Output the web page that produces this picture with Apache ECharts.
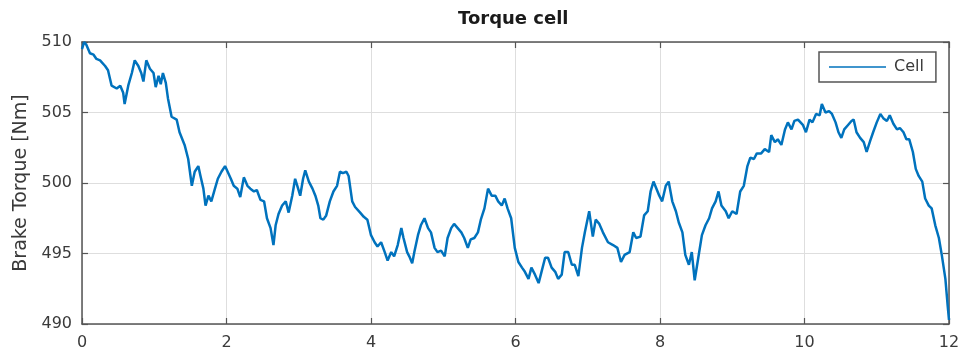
<!DOCTYPE html>
<html>
<head>
<meta charset="utf-8">
<title>Torque cell</title>
<script src="https://cdn.jsdelivr.net/npm/echarts@6/dist/echarts.min.js"></script>
<style>
  html, body { margin: 0; padding: 0; background: #ffffff; }
  #chart { width: 964px; height: 361px; }
</style>
</head>
<body>
<div id="chart"></div>
<script>
// Time axis samples [s]
const timeS = [
  0.00, 0.03, 0.06, 0.11, 0.16, 0.20, 0.25, 0.32, 0.36, 0.41, 0.48, 0.53, 0.57, 0.59, 0.64, 0.69,
  0.73, 0.78, 0.82, 0.85, 0.89, 0.94, 0.99, 1.02, 1.06, 1.09, 1.12, 1.16, 1.19, 1.24, 1.31, 1.35,
  1.42, 1.47, 1.52, 1.56, 1.61, 1.64, 1.68, 1.71, 1.75, 1.79, 1.84, 1.88, 1.93,
  1.98, 2.06, 2.10, 2.15, 2.19, 2.24, 2.29, 2.33, 2.38, 2.42, 2.47, 2.52, 2.56, 2.61, 2.65, 2.68,
  2.72, 2.77, 2.82, 2.86, 2.91, 2.95, 2.98, 3.02, 3.06, 3.09, 3.14, 3.19, 3.23, 3.27, 3.30, 3.34,
  3.38, 3.43, 3.48, 3.53, 3.57, 3.61, 3.66, 3.69, 3.74, 3.78, 3.85, 3.90, 3.95,
  4.00, 4.05, 4.09, 4.14, 4.19, 4.23, 4.28, 4.32, 4.37, 4.42, 4.45, 4.50, 4.53, 4.57, 4.60, 4.65,
  4.69, 4.74, 4.79, 4.83, 4.88, 4.92, 4.97, 5.02, 5.06, 5.11, 5.15, 5.20, 5.25, 5.29, 5.34, 5.38,
  5.43, 5.48, 5.52, 5.57, 5.62, 5.67, 5.72, 5.76, 5.81, 5.85, 5.89, 5.94,
  5.99, 6.04, 6.09, 6.13, 6.18, 6.22, 6.27, 6.32, 6.36, 6.41, 6.45, 6.50, 6.55, 6.59, 6.64, 6.68,
  6.73, 6.78, 6.82, 6.87, 6.92, 6.96, 7.02, 7.07, 7.11, 7.16, 7.21, 7.28, 7.35, 7.41, 7.46, 7.51,
  7.58, 7.63, 7.67, 7.73, 7.78, 7.83, 7.87, 7.91,
  7.99, 8.03, 8.08, 8.12, 8.17, 8.22, 8.26, 8.31, 8.35, 8.40, 8.44, 8.48, 8.53, 8.58, 8.63, 8.68,
  8.72, 8.77, 8.81, 8.85, 8.91, 8.95, 9.00, 9.06, 9.11, 9.16, 9.21, 9.25, 9.30, 9.34, 9.40, 9.45,
  9.51, 9.54, 9.59, 9.63, 9.68, 9.73, 9.77, 9.82, 9.86, 9.91,
  9.98, 10.02, 10.07, 10.11, 10.16, 10.21, 10.24, 10.29, 10.34, 10.38, 10.43, 10.47, 10.51, 10.55,
  10.60, 10.65, 10.68, 10.72, 10.77, 10.82, 10.86, 10.91, 10.95, 11.00, 11.05, 11.09, 11.14, 11.18,
  11.23, 11.28, 11.32, 11.37, 11.41, 11.45, 11.50, 11.54, 11.58, 11.63, 11.67, 11.72, 11.76, 11.81,
  11.86, 11.90, 11.95, 11.98, 12.00
];

// Brake torque measured by the cell [Nm]
const cellTorque = [
  509.5, 510.0, 509.8, 509.2, 509.1, 508.8, 508.7, 508.3, 508.0, 506.9, 506.7, 506.9, 506.4, 505.6, 506.9, 507.8,
  508.7, 508.3, 507.8, 507.2, 508.7, 508.1, 507.8, 506.8, 507.6, 507.0, 507.8, 507.1, 506.0, 504.7, 504.5, 503.6,
  502.7, 501.7, 499.8, 500.8, 501.2, 500.5, 499.6, 498.4, 499.1, 498.7, 499.6, 500.3, 500.8,
  501.2, 500.3, 499.8, 499.6, 499.0, 500.4, 499.8, 499.6, 499.4, 499.5, 498.8, 498.7, 497.5, 496.8, 495.6, 497.0,
  497.8, 498.4, 498.7, 497.9, 499.1, 500.3, 499.8, 499.1, 500.3, 500.9, 500.1, 499.6, 499.1, 498.4, 497.5, 497.4,
  497.7, 498.7, 499.4, 499.8, 500.8, 500.7, 500.8, 500.5, 498.7, 498.3, 497.9, 497.6, 497.4,
  496.3, 495.8, 495.5, 495.8, 495.1, 494.5, 495.1, 494.8, 495.6, 496.8, 496.1, 495.1, 494.8, 494.3, 495.1, 496.3,
  497.0, 497.5, 496.8, 496.5, 495.4, 495.1, 495.2, 494.8, 496.1, 496.8, 497.1, 496.8, 496.5, 496.1, 495.4, 496.0,
  496.1, 496.5, 497.4, 498.2, 499.6, 499.1, 499.1, 498.7, 498.4, 498.9, 498.2, 497.5,
  495.4, 494.4, 494.0, 493.7, 493.2, 494.0, 493.5, 492.9, 493.7, 494.7, 494.7, 494.0, 493.7, 493.2, 493.5, 495.1,
  495.1, 494.2, 494.2, 493.4, 495.4, 496.5, 498.0, 496.2, 497.4, 497.1, 496.5, 495.8, 495.6, 495.4, 494.4, 494.9,
  495.1, 496.5, 496.1, 496.2, 497.7, 498.0, 499.4, 500.1,
  499.1, 498.7, 499.8, 500.1, 498.7, 498.0, 497.2, 496.5, 494.9, 494.2, 495.1, 493.1, 494.7, 496.3, 497.0, 497.5,
  498.2, 498.7, 499.4, 498.4, 498.0, 497.5, 498.0, 497.8, 499.4, 499.8, 501.2, 501.8, 501.7, 502.1, 502.1, 502.4,
  502.2, 503.4, 502.9, 503.1, 502.7, 503.8, 504.3, 503.8, 504.4, 504.5,
  504.1, 503.6, 504.5, 504.3, 504.9, 504.8, 505.6, 505.0, 505.1, 504.9, 504.3, 503.6, 503.2, 503.8,
  504.1, 504.4, 504.5, 503.6, 503.2, 502.9, 502.2, 503.0, 503.6, 504.3, 504.9, 504.6, 504.4, 504.8,
  504.2, 503.8, 503.9, 503.6, 503.1, 503.1, 502.2, 501.0, 500.5, 500.1, 498.9, 498.4, 498.2, 497.0,
  496.1, 494.9, 493.2, 491.4, 490.3
];

// Axis ranges and tick spacing
const xRange = [0, 12];
const xStep = 2;
const yRange = [490, 510];
const yStep = 5;

const seriesName = 'Cell';
const titleText = 'Torque cell';
const yAxisTitle = 'Brake Torque [Nm]';

const points = timeS.map((t, i) => [t, cellTorque[i]]);

const FONT = 'DejaVu Sans';
const FRAME = '#555555';
const GRID = '#dedede';
const LABEL = '#3a3a3a';
const LINE = '#0072BD';

const chart = echarts.init(document.getElementById('chart'), null, { renderer: 'canvas' });

const frameLine = { show: true, onZero: false, lineStyle: { color: FRAME, width: 1.5 } };
const innerTick = { show: true, inside: true, length: 6, lineStyle: { color: FRAME, width: 1.2 } };

chart.setOption({
  animation: false,
  backgroundColor: '#ffffff',
  title: {
    text: titleText,
    left: 458,
    top: 10,
    padding: 0,
    textStyle: { fontFamily: FONT, fontWeight: 'bold', fontSize: 18, color: '#1a1a1a' }
  },
  legend: {
    left: 819,
    top: 52,
    padding: [7, 12, 7, 10],
    itemWidth: 57,
    itemHeight: 1.5,
    icon: 'rect',
    backgroundColor: '#ffffff',
    borderColor: FRAME,
    borderWidth: 1.5,
    borderRadius: 0,
    selectedMode: false,
    textStyle: { fontFamily: FONT, fontSize: 16, color: LABEL, padding: [0, 0, 0, 3] },
    data: [seriesName]
  },
  grid: { left: 82, right: 15, top: 42, bottom: 37, show: false },
  xAxis: [
    {
      type: 'value', min: xRange[0], max: xRange[1], interval: xStep, position: 'bottom',
      axisLine: frameLine, axisTick: innerTick,
      axisLabel: { margin: 11, fontFamily: FONT, fontSize: 16, color: LABEL },
      splitLine: { show: true, lineStyle: { color: GRID, width: 1 } }
    },
    {
      type: 'value', min: xRange[0], max: xRange[1], interval: xStep, position: 'top',
      axisLine: frameLine, axisTick: innerTick,
      axisLabel: { show: false }, splitLine: { show: false }
    }
  ],
  yAxis: [
    {
      type: 'value', min: yRange[0], max: yRange[1], interval: yStep, position: 'left',
      name: yAxisTitle, nameLocation: 'middle', nameGap: 48,
      nameTextStyle: { fontFamily: FONT, fontSize: 19, color: LABEL },
      axisLine: frameLine, axisTick: innerTick,
      axisLabel: { margin: 10, fontFamily: FONT, fontSize: 16, color: LABEL },
      splitLine: { show: true, lineStyle: { color: GRID, width: 1 } }
    },
    {
      type: 'value', min: yRange[0], max: yRange[1], interval: yStep, position: 'right',
      axisLine: frameLine, axisTick: innerTick,
      axisLabel: { show: false }, splitLine: { show: false }
    }
  ],
  series: [
    {
      name: seriesName,
      type: 'line',
      xAxisIndex: 0,
      yAxisIndex: 0,
      data: points,
      showSymbol: false,
      symbol: 'none',
      smooth: false,
      itemStyle: { color: LINE },
      lineStyle: { color: LINE, width: 2.5 },
      z: 3
    }
  ]
});
</script>
</body>
</html>
